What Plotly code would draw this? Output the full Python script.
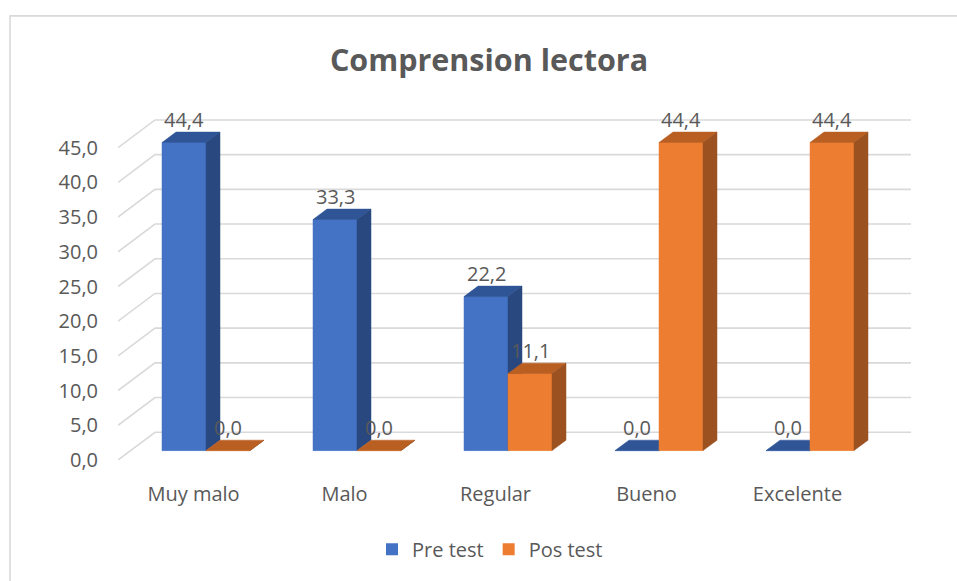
import plotly.graph_objects as go

# ---- data ----
categories = ["Muy malo", "Malo", "Regular", "Bueno", "Excelente"]
pre_test = [44.4, 33.3, 22.2, 0.0, 0.0]
pos_test = [0.0, 0.0, 11.1, 44.4, 44.4]
series_names = ["Pre test", "Pos test"]
y_ticks = [0, 5, 10, 15, 20, 25, 30, 35, 40, 45]
title_text = "Comprension lectora"

# ---- style / geometry (3D look) ----
PX_X = 151.0   # pixels per category unit
PX_Y = 7.0     # pixels per value unit
L, R, T, B = 118, 46, 117, 118
W_FIG, H_FIG = 957, 581
plot_w = W_FIG - L - R
plot_h = H_FIG - T - B
x_range = [-0.5, -0.5 + plot_w / PX_X]
y_range = [0, plot_h / PX_Y]

# depth offsets (in data units)
wall_dx, wall_dy = 37 / PX_X, 28 / PX_Y       # floor front -> back wall
front_dx, front_dy = 12.5 / PX_X, 9.5 / PX_Y  # floor front -> bar front plane
bar_dx, bar_dy = 14 / PX_X, 10.5 / PX_Y       # bar depth
bar_w = 44 / PX_X

colors = {
    "Pre test": {"front": "#4472C4", "top": "#2F5597", "side": "#294880"},
    "Pos test": {"front": "#ED7D31", "top": "#BA5F22", "side": "#9C5121"},
}
text_color = "#595959"
grid_color = "#D9D9D9"
font_family = "Open Sans"

fig = go.Figure()

# back-wall gridlines + floor diagonals
gx, gy = [], []
for v in y_ticks:
    gx += [x_range[0], x_range[0] + wall_dx, x_range[1], None]
    gy += [v, v + wall_dy, v + wall_dy, None]
fig.add_trace(go.Scatter(x=gx, y=gy, mode="lines", line=dict(color=grid_color, width=1.6),
                         hoverinfo="skip", showlegend=False))

# legend bars (front faces, data driven)
for s_idx, (name, vals) in enumerate(zip(series_names, [pre_test, pos_test])):
    xs = [i + front_dx + (s_idx - 1) * bar_w + bar_w / 2 for i in range(len(categories))]
    fig.add_trace(go.Bar(x=xs, y=vals, base=[front_dy] * len(vals), width=bar_w,
                         name=name, marker=dict(color=colors[name]["front"], line=dict(width=0)),
                         hoverinfo="skip"))

# 3D faces as polygons (drawn in occlusion order)
for s_idx, (name, vals) in enumerate(zip(series_names, [pre_test, pos_test])):
    fx, fy, tx, ty, sx, sy = [], [], [], [], [], []
    for i, v in enumerate(vals):
        x0 = i + front_dx + (s_idx - 1) * bar_w
        b = front_dy
        h = v
        fx += [x0, x0 + bar_w, x0 + bar_w, x0, x0, None]
        fy += [b, b, b + h, b + h, b, None]
        tx += [x0, x0 + bar_w, x0 + bar_w + bar_dx, x0 + bar_dx, x0, None]
        ty += [b + h, b + h, b + h + bar_dy, b + h + bar_dy, b + h, None]
        sx += [x0 + bar_w, x0 + bar_w + bar_dx, x0 + bar_w + bar_dx, x0 + bar_w, x0 + bar_w, None]
        sy += [b, b + bar_dy, b + h + bar_dy, b + h, b, None]
    for px, py, key in [(fx, fy, "front"), (tx, ty, "top"), (sx, sy, "side")]:
        fig.add_trace(go.Scatter(x=px, y=py, mode="lines", fill="toself",
                                 fillcolor=colors[name][key],
                                 line=dict(color=colors[name][key], width=0.5),
                                 hoverinfo="skip", showlegend=False))
    # data labels
    for i, v in enumerate(vals):
        xc = i + front_dx + (s_idx - 1) * bar_w + bar_w / 2
        fig.add_annotation(x=xc, y=v + front_dy, text=f"{v:.1f}".replace(".", ","),
                           showarrow=False, yanchor="middle", yshift=23,
                           font=dict(family=font_family, size=20, color=text_color))

# outer chart border (partially visible)
fig.add_shape(type="rect", xref="paper", yref="paper",
              x0=(10 - L) / plot_w, x1=1.3, y0=-0.6, y1=(H_FIG - B - 15) / plot_h,
              line=dict(color=grid_color, width=1.6), fillcolor="rgba(0,0,0,0)", layer="below")

fig.update_layout(
    width=W_FIG, height=H_FIG,
    margin=dict(l=L, r=R, t=T, b=B),
    paper_bgcolor="white", plot_bgcolor="white",
    barmode="overlay",
    separators=",.",
    title=dict(text=f"<b>{title_text}</b>", x=489 / W_FIG, xanchor="center",
               y=1 - 60 / H_FIG, yanchor="middle",
               font=dict(family=font_family, size=30.5, color=text_color)),
    xaxis=dict(range=x_range, tickvals=list(range(len(categories))), ticktext=categories,
               showgrid=False, zeroline=False, showline=False,
               ticks="outside", ticklen=16, tickcolor="rgba(0,0,0,0)",
               tickfont=dict(family=font_family, size=20, color=text_color)),
    yaxis=dict(range=y_range, tickvals=y_ticks, tickformat=".1f",
               showgrid=False, zeroline=False, showline=False,
               ticks="outside", ticklen=15, tickcolor="rgba(0,0,0,0)",
               tickfont=dict(family=font_family, size=20, color=text_color)),
    legend=dict(orientation="h", x=(490 - L) / plot_w, xanchor="center",
                y=(H_FIG - B - 553) / plot_h, yanchor="middle",
                font=dict(family=font_family, size=20, color=text_color),
                itemclick=False),
    showlegend=True,
)

fig.write_html("out.html", config={"displayModeBar": False},
               post_script="document.body.style.margin='0';")
